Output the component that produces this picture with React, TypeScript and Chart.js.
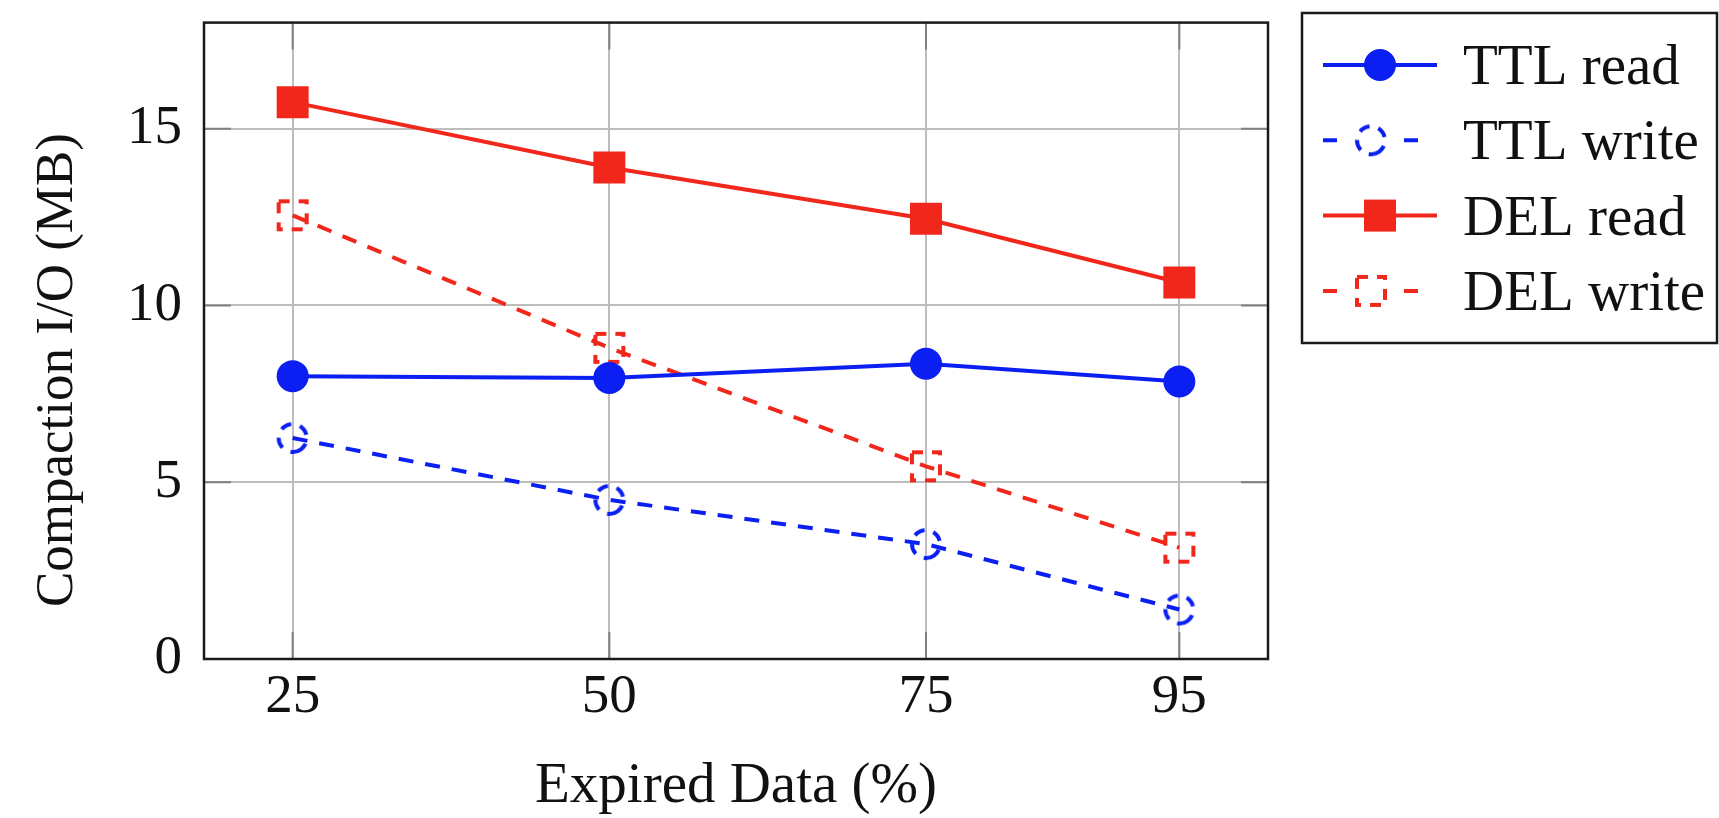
import React, { useEffect, useRef } from "react";
import { Chart, registerables } from "chart.js";
Chart.register(...registerables);

const expiredPct = [25, 50, 75, 95];
const ttlRead = [8.0, 7.95, 8.35, 7.85];
const ttlWrite = [6.25, 4.5, 3.25, 1.4];
const delRead = [15.75, 13.9, 12.45, 10.65];
const delWrite = [12.55, 8.8, 5.45, 3.15];
const seriesNames = ["TTL read", "TTL write", "DEL read", "DEL write"];
const yTickValues = [0, 5, 10, 15];
const xTitle = "Expired Data (%)";
const yTitle = "Compaction I/O (MB)";

const BLUE = "#0b1ff2";
const RED = "#f2271c";
const FONT = "'Liberation Serif', 'DejaVu Serif', serif";

function dashedMarker(shape: string, color: string) {
  const c = document.createElement("canvas");
  c.width = 44;
  c.height = 44;
  const ctx = c.getContext("2d")!;
  ctx.strokeStyle = color;
  ctx.lineWidth = 4;
  ctx.setLineDash([11, 9]);
  ctx.beginPath();
  if (shape === "circle") ctx.arc(22, 22, 14, Math.PI * 0.3, Math.PI * 2.3);
  else ctx.rect(8, 8, 28, 28);
  ctx.stroke();
  return c;
}

const pts = (ys: number[]) => expiredPct.map((x, i) => ({ x, y: ys[i] }));

export default function App() {
  const ref = useRef<HTMLCanvasElement>(null);
  useEffect(() => {
    const circImg = dashedMarker("circle", BLUE);
    const rectImg = dashedMarker("rect", RED);
    const styles = [
      { color: BLUE, dash: [], marker: "circle" },
      { color: BLUE, dash: [15, 12], marker: circImg },
      { color: RED, dash: [], marker: "rect" },
      { color: RED, dash: [15, 12], marker: rectImg },
    ];
    const values = [ttlRead, ttlWrite, delRead, delWrite];
    const datasets = values.map((v, i) => ({
      label: seriesNames[i],
      data: pts(v),
      borderColor: styles[i].color,
      backgroundColor: styles[i].color,
      borderWidth: 4,
      borderDash: styles[i].dash,
      pointStyle: styles[i].marker as any,
      pointRadius: styles[i].marker === "rect" ? 22.6 : 16,
      pointBorderWidth: 0,
      pointBackgroundColor: styles[i].color,
      tension: 0,
    }));

    const ticksMarks = {
      id: "tickMarks",
      beforeDatasetsDraw(chart: any) {
        const ctx = chart.ctx;
        const a = chart.chartArea;
        const xs = chart.scales.x;
        const ys = chart.scales.y;
        ctx.save();
        ctx.strokeStyle = "#808080";
        ctx.lineWidth = 2;
        const L = 27;
        ctx.beginPath();
        expiredPct.forEach((v) => {
          const px = xs.getPixelForValue(v);
          ctx.moveTo(px, a.bottom);
          ctx.lineTo(px, a.bottom - L);
          ctx.moveTo(px, a.top);
          ctx.lineTo(px, a.top + L);
        });
        yTickValues.forEach((v) => {
          const py = ys.getPixelForValue(v);
          ctx.moveTo(a.left, py);
          ctx.lineTo(a.left + L, py);
          ctx.moveTo(a.right, py);
          ctx.lineTo(a.right - L, py);
        });
        ctx.stroke();
        ctx.restore();
      },
    };

    const decor = {
      id: "decor",
      afterDraw(chart: any) {
        const ctx = chart.ctx;
        const a = chart.chartArea;
        ctx.save();
        ctx.strokeStyle = "#1a1a1a";
        ctx.lineWidth = 2.5;
        ctx.strokeRect(a.left, a.top, a.right - a.left, a.bottom - a.top);
        // titles
        ctx.fillStyle = "#111";
        ctx.font = `57px ${FONT}`;
        ctx.textAlign = "center";
        ctx.textBaseline = "alphabetic";
        ctx.fillText(xTitle, (a.left + a.right) / 2, 802);
        ctx.save();
        ctx.translate(72, 370);
        ctx.rotate(-Math.PI / 2);
        ctx.font = `53px ${FONT}`;
        ctx.fillText(yTitle, 0, 0);
        ctx.restore();
        // legend
        const lx = 1302, ly = 13, lw = 415, lh = 330;
        ctx.lineWidth = 2.5;
        ctx.strokeRect(lx, ly, lw, lh);
        chart.data.datasets.forEach((ds: any, i: number) => {
          const y = 65 + i * 75.3;
          ctx.strokeStyle = ds.borderColor;
          ctx.fillStyle = ds.borderColor;
          ctx.lineWidth = 4;
          const st = styles[i];
          if (st.dash.length === 0) {
            ctx.beginPath();
            ctx.moveTo(1323, y);
            ctx.lineTo(1437, y);
            ctx.stroke();
            if (st.marker === "circle") {
              ctx.beginPath();
              ctx.arc(1380, y, 16, 0, Math.PI * 2);
              ctx.fill();
            } else {
              ctx.fillRect(1364, y - 16, 32, 32);
            }
          } else {
            ctx.beginPath();
            ctx.moveTo(1323, y);
            ctx.lineTo(1337, y);
            ctx.moveTo(1404, y);
            ctx.lineTo(1418, y);
            ctx.stroke();
            const img = st.marker as HTMLCanvasElement;
            ctx.drawImage(img, 1371 - 22, y - 22);
          }
          ctx.fillStyle = "#111";
          ctx.font = `57px ${FONT}`;
          ctx.textAlign = "left";
          ctx.fillText(ds.label, 1463, y + 19);
        });
        ctx.restore();
      },
    };

    const chart = new Chart(ref.current!, {
      type: "line",
      data: { datasets: datasets as any },
      options: {
        animation: false,
        responsive: false,
        devicePixelRatio: 1,
        layout: { padding: { top: 13, right: 451, left: 0, bottom: 0 } },
        plugins: { legend: { display: false }, tooltip: { enabled: false } },
        scales: {
          x: {
            type: "linear",
            min: 18,
            max: 102,
            afterBuildTicks: (s: any) => {
              s.ticks = expiredPct.map((v) => ({ value: v }));
            },
            afterFit: (s: any) => {
              s.height = 159;
              s.paddingLeft = 0;
              s.paddingRight = 0;
            },
            grid: { color: "#bdbdbd", lineWidth: 2, drawTicks: false },
            border: { display: false },
            ticks: {
              color: "#111",
              font: { family: FONT, size: 55 },
              padding: 6,
              maxRotation: 0,
              callback: (v: any) => String(v),
            },
          },
          y: {
            type: "linear",
            min: 0,
            max: 18,
            afterBuildTicks: (s: any) => {
              s.ticks = yTickValues.map((v) => ({ value: v }));
            },
            afterFit: (s: any) => {
              s.width = 204;
              s.paddingTop = 0;
              s.paddingBottom = 0;
            },
            grid: { color: "#bdbdbd", lineWidth: 2, drawTicks: false },
            border: { display: false },
            ticks: {
              color: "#111",
              font: { family: FONT, size: 55 },
              padding: 22,
              callback: (v: any) => String(v),
            },
          },
        },
      },
      plugins: [ticksMarks, decor],
    });
    return () => chart.destroy();
  }, []);
  return (
    <canvas
      ref={ref}
      width={1719}
      height={818}
      style={{ position: "fixed", left: 0, top: 0, display: "block", background: "#fff" }}
    />
  );
}
